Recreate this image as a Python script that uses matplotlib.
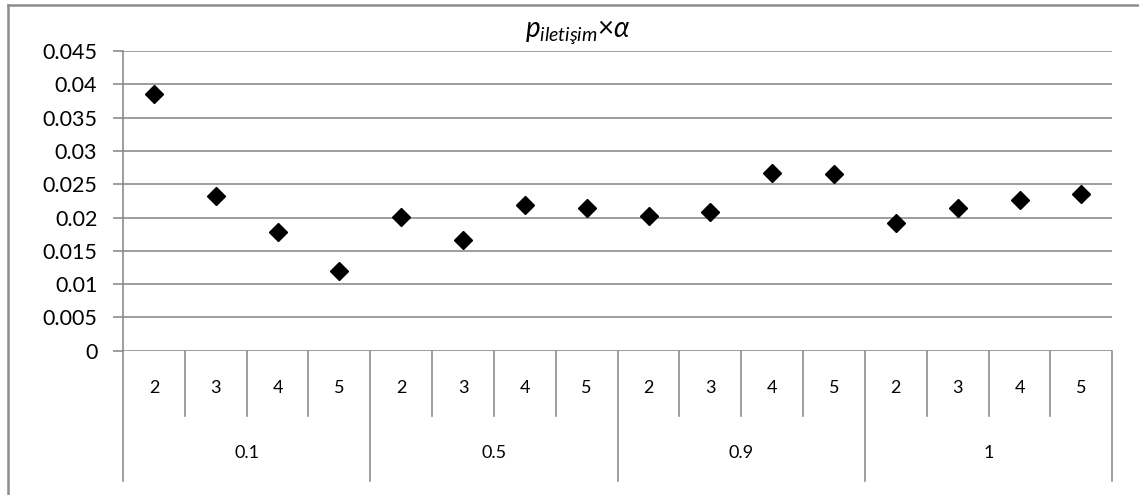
import matplotlib
matplotlib.use("Agg")
import matplotlib.pyplot as plt
from matplotlib.lines import Line2D
import matplotlib.transforms as mtransforms

# ---- data ----
groups = ["0.1", "0.5", "0.9", "1"]
subcats = ["2", "3", "4", "5"]
values = [0.0385, 0.0232, 0.0178, 0.0120,
          0.0201, 0.0166, 0.0219, 0.0214,
          0.0203, 0.0208, 0.0267, 0.0265,
          0.0192, 0.0214, 0.0227, 0.0236]
yticks = [0, 0.005, 0.01, 0.015, 0.02, 0.025, 0.03, 0.035, 0.04, 0.045]
ytick_labels = ["0", "0.005", "0.01", "0.015", "0.02", "0.025", "0.03", "0.035", "0.04", "0.045"]

FONT = ["Lato", "DejaVu Sans"]
plt.rcParams["font.family"] = FONT
plt.rcParams["mathtext.fontset"] = "custom"
plt.rcParams["mathtext.it"] = "Lato:italic"
plt.rcParams["mathtext.rm"] = "Lato"

W, H = 1139, 495
DPI = 100
fig = plt.figure(figsize=(W / DPI, H / DPI), dpi=DPI)
GRAY = "#8c8c8c"

ax = fig.add_axes([123 / W, 1 - 350.7 / H, (1112.3 - 123) / W, (350.7 - 51) / H])

n = len(groups) * len(subcats)
xs = list(range(n))
ax.plot(xs, values, linestyle="none", marker="D", markersize=9.5,
        color="black", clip_on=False, zorder=3)

ax.set_xlim(-0.5, n - 0.5)
ax.set_ylim(0, 0.045)
ax.set_yticks(yticks)
ax.set_yticklabels(ytick_labels, fontsize=15.5)
ax.yaxis.grid(True, color=GRAY, linewidth=1.2)
ax.set_axisbelow(True)
ax.tick_params(axis="y", direction="out", length=7, width=1.2, color=GRAY, pad=11.5)
ax.set_xticks([])
for s in ["top", "right", "bottom"]:
    ax.spines[s].set_visible(False)
ax.spines["left"].set_color(GRAY)
ax.spines["left"].set_linewidth(1.2)

# two-level category axis
px_to_axes = 1.0 / (350.7 - 51)
trans = mtransforms.blended_transform_factory(ax.transData, ax.transAxes)
inner_depth = -(415.7 - 350.7) * px_to_axes
outer_depth = -(480.7 - 350.7) * px_to_axes
ns = len(subcats)
for k in range(n + 1):
    bottom = outer_depth if k % ns == 0 else inner_depth
    ax.add_line(Line2D([k - 0.5, k - 0.5], [0, bottom], transform=trans,
                       color=GRAY, linewidth=1.2, clip_on=False))
for i, g in enumerate(groups):
    for j, s in enumerate(subcats):
        ax.text(i * ns + j, -(388 - 350.7) * px_to_axes, s, transform=trans,
                ha="center", va="center", fontsize=13)
    ax.text(i * ns + (ns - 1) / 2, -(453 - 350.7) * px_to_axes, g, transform=trans,
            ha="center", va="center", fontsize=13)

# title
fig.text(578 / W, 1 - 36 / H, r"$p_{iletişim}\mathregular{\times}\alpha$",
         ha="center", va="baseline", fontsize=20)

# chart frame (only left/top visible)
fig.add_artist(Line2D([7.5 / W, 7.5 / W], [0, 1 - 5 / H], transform=fig.transFigure,
                      color=GRAY, linewidth=1.8))
fig.add_artist(Line2D([7.5 / W, 1], [1 - 5 / H, 1 - 5 / H], transform=fig.transFigure,
                      color=GRAY, linewidth=1.8))

fig.savefig("out.png", dpi=DPI)
